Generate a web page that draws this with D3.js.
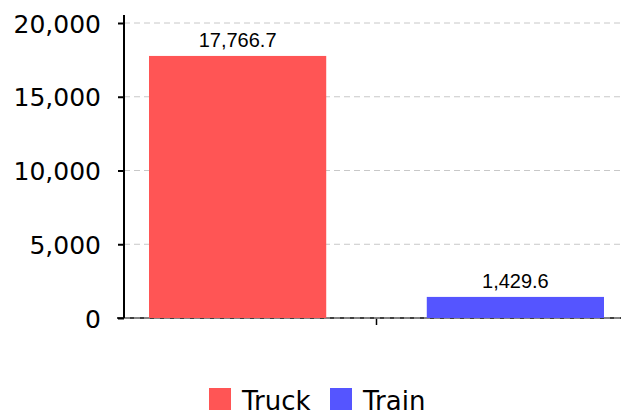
<!DOCTYPE html>
<html>
<head>
<meta charset="utf-8">
<script src="https://cdn.jsdelivr.net/npm/d3@7"></script>
<style>
  body { margin: 0; background: #fff; }
  svg { display: block; }
</style>
</head>
<body>
<div id="chart"></div>
<script>
var categories = [""];
var seriesNames = ["Truck", "Train"];
var seriesValues = [17766.7, 1429.6];
var seriesColors = ["#ff5555", "#5555ff"];
var yTicks = [0, 5000, 10000, 15000, 20000];

var W = 621, H = 416;
var margin = {top: 23, left: 124, right: -8, bottom: 98};
var fmt = d3.format(",.1f");
var tickFmt = d3.format(",");

var svg = d3.select("#chart").append("svg")
    .attr("width", W).attr("height", H);

var x0 = d3.scaleBand().domain(categories)
    .range([margin.left, W - margin.right]);
var x1 = d3.scaleBand().domain(seriesNames)
    .range([0, x0.bandwidth()]).paddingInner(0.362).paddingOuter(0.09);
var y = d3.scaleLinear().domain([0, 20000]).range([H - margin.bottom, margin.top]);

// x axis line (under the grid)
var xAxis = svg.append("g")
    .attr("transform", "translate(0," + y(0) + ")")
    .call(d3.axisBottom(x0).tickSize(7).tickSizeOuter(0).tickFormat(""));
xAxis.select(".domain").attr("stroke", "#000").attr("stroke-width", 1.5)
    .attr("d", "M117,0H" + W);
xAxis.selectAll(".tick line").attr("stroke", "#000").attr("stroke-width", 1.5);

// gridlines
svg.append("g").selectAll("line").data(yTicks).enter().append("line")
    .attr("x1", margin.left).attr("x2", W)
    .attr("y1", d => y(d)).attr("y2", d => y(d))
    .attr("stroke", "#c8c8c8").attr("stroke-width", 1)
    .attr("stroke-dasharray", "6,4");

// bars
var g = svg.append("g").selectAll("g").data(categories).enter().append("g")
    .attr("transform", d => "translate(" + x0(d) + ",0)");
g.selectAll("rect").data(seriesNames.map((s, i) => ({s: s, v: seriesValues[i], c: seriesColors[i]})))
    .enter().append("rect")
    .attr("x", d => x1(d.s))
    .attr("width", x1.bandwidth())
    .attr("y", d => y(d.v))
    .attr("height", d => y(0) - y(d.v))
    .attr("fill", d => d.c);
g.selectAll("text").data(seriesNames.map((s, i) => ({s: s, v: seriesValues[i]})))
    .enter().append("text")
    .attr("x", d => x1(d.s) + x1.bandwidth() / 2)
    .attr("y", d => y(d.v) - 9)
    .attr("text-anchor", "middle")
    .style("font-family", "'Liberation Sans', Arial, sans-serif")
    .style("font-size", "20px")
    .attr("fill", "#000")
    .text(d => fmt(d.v));

// y axis
var yAxis = svg.append("g")
    .attr("transform", "translate(" + margin.left + ",0)")
    .call(d3.axisLeft(y).tickValues(yTicks).tickFormat(tickFmt).tickSize(6).tickSizeOuter(0).tickPadding(17));
yAxis.select(".domain").attr("stroke", "#000").attr("stroke-width", 2)
    .attr("d", "M0,15V" + y(0));
yAxis.selectAll(".tick line").attr("stroke", "#000").attr("stroke-width", 2);
yAxis.selectAll(".tick text")
    .attr("dy", "0.36em")
    .style("font-family", "'DejaVu Sans', sans-serif")
    .style("font-size", "25px")
    .attr("fill", "#000");

// legend
var legX = [209, 330];
var leg = svg.append("g").selectAll("g").data(seriesNames).enter().append("g")
    .attr("transform", (d, i) => "translate(" + legX[i] + ",388)");
leg.append("rect").attr("width", 22).attr("height", 22)
    .attr("fill", (d, i) => seriesColors[i]);
leg.append("text").attr("x", 33).attr("y", 22)
    .style("font-family", "'DejaVu Sans', sans-serif")
    .style("font-size", "26px")
    .attr("fill", "#000")
    .text(d => d);
</script>
</body>
</html>
